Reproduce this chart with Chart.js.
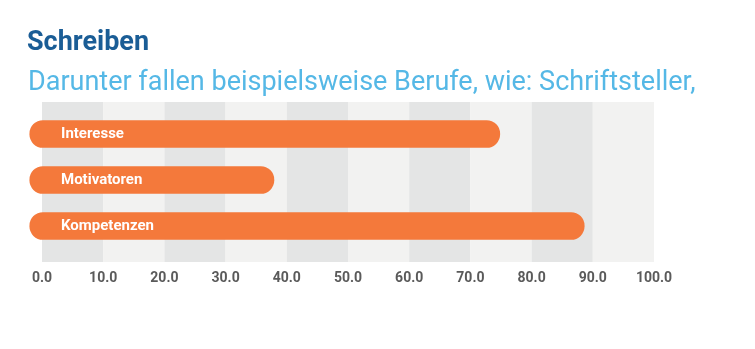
<!DOCTYPE html>
<html>
<head>
<meta charset="utf-8">
<script src="https://cdn.jsdelivr.net/npm/chart.js@4/dist/chart.umd.min.js"></script>
<style>
  html, body { margin: 0; padding: 0; background: #ffffff; }
  #wrap { position: relative; width: 755px; height: 349px; overflow: hidden; }
  #title { position: absolute; left: 27px; top: 28px; font: bold 27px/27px Roboto, sans-serif; color: #1a5d96; white-space: nowrap; }
  #subtitle { position: absolute; left: 28px; top: 68px; font: 27px/27px Roboto, sans-serif; color: #55b8e6; white-space: nowrap; }
  #c { position: absolute; left: 0; top: 0; }
</style>
</head>
<body>
<div id="wrap">
  <canvas id="c" width="755" height="349"></canvas>
  <div id="title">Schreiben</div>
  <div id="subtitle">Darunter fallen beispielsweise Berufe, wie: Schriftsteller,</div>
</div>
<script>
const categories = ["Interesse", "Motivatoren", "Kompetenzen"];
const values = [74.8, 37.9, 88.6];
const axisMin = 0;
const axisMax = 100;
const axisStep = 10;

const stripePlugin = {
  id: 'stripes',
  beforeDatasetsDraw(chart) {
    const { ctx, chartArea } = chart;
    const x = chart.scales.x;
    const ticks = x.ticks;
    const top = chartArea.top - 9;
    const bottom = chartArea.bottom + 13;
    ctx.save();
    for (let i = 0; i < ticks.length - 1; i++) {
      const x0 = x.getPixelForValue(ticks[i].value);
      const x1 = x.getPixelForValue(ticks[i + 1].value);
      ctx.fillStyle = i % 2 === 0 ? '#e4e5e5' : '#f2f2f1';
      ctx.fillRect(x0, top, x1 - x0, bottom - top);
    }
    ctx.restore();
  }
};

new Chart(document.getElementById('c'), {
  type: 'bar',
  data: {
    labels: categories,
    datasets: [{
      data: values,
      backgroundColor: '#f4793b',
      borderWidth: 0,
      borderSkipped: false,
      borderRadius: 14,
      barThickness: 27,
      base: -2,
      clip: false
    }]
  },
  options: {
    indexAxis: 'y',
    responsive: false,
    animation: false,
    devicePixelRatio: 1,
    layout: { padding: { left: 42, right: 101, top: 111, bottom: 60 } },
    plugins: { legend: { display: false }, tooltip: { enabled: false }, title: { display: false } },
    scales: {
      x: {
        min: axisMin,
        max: axisMax,
        grid: { display: false },
        border: { display: false },
        afterFit(scale) { scale.height = 40; },
        ticks: {
          stepSize: axisStep,
          padding: 13,
          color: '#5a5a5a',
          font: { family: 'Roboto', size: 14, weight: 'bold' },
          callback: (v) => Number(v).toFixed(1),
          maxRotation: 0,
          autoSkip: false
        }
      },
      y: {
        grid: { display: false },
        border: { display: false },
        afterFit(scale) { scale.width = 0; },
        ticks: {
          mirror: true,
          padding: 19,
          z: 1,
          color: '#ffffff',
          font: { family: 'Roboto', size: 15, weight: 'bold' }
        }
      }
    }
  },
  plugins: [stripePlugin]
});
</script>
</body>
</html>
